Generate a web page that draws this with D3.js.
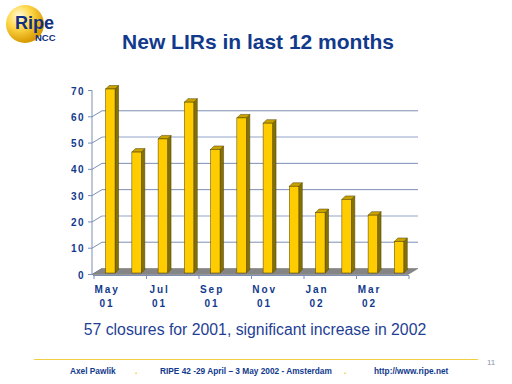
<!DOCTYPE html>
<html><head><meta charset="utf-8">
<script src="https://cdn.jsdelivr.net/npm/d3@7/dist/d3.min.js"></script>
<style>html,body{margin:0;padding:0;background:#fff;}svg{display:block;}</style>
</head><body>
<svg id="c" width="512" height="384"></svg>
<script>
const months = ["May 01","Jun 01","Jul 01","Aug 01","Sep 01","Oct 01","Nov 01","Dec 01","Jan 02","Feb 02","Mar 02","Apr 02"];
const newLIRs = [70,46,51,65,47,59,57,33,23,28,22,12];
const xTickLabels = [["May","01"],["Jul","01"],["Sep","01"],["Nov","01"],["Jan","02"],["Mar","02"]];
const yTicks = [0,10,20,30,40,50,60,70];
const gridValues = [10,20,30,40,50,60];

const svg = d3.select("#c");
const navy = "#123a8c";

// logo
const defs = svg.append("defs");
const rg = defs.append("radialGradient").attr("id","ball").attr("cx","35%").attr("cy","30%").attr("r","70%");
rg.append("stop").attr("offset","0%").attr("stop-color","#fffbe0");
rg.append("stop").attr("offset","45%").attr("stop-color","#ffd84a");
rg.append("stop").attr("offset","100%").attr("stop-color","#d89a00");
svg.append("circle").attr("cx",25).attr("cy",24).attr("r",19).attr("fill","url(#ball)");
svg.append("text").attr("x",15).attr("y",29).attr("font-family","Liberation Sans, Arial, sans-serif")
  .attr("font-size",18).attr("font-weight","bold").style("fill","#102f80").text("Ripe");
svg.append("text").attr("x",35).attr("y",41).attr("font-family","Liberation Sans, Arial, sans-serif")
  .attr("font-size",9.5).attr("font-weight","bold").style("fill","#102f80").text("NCC");

// title
svg.append("text").attr("x",258).attr("y",49).attr("text-anchor","middle")
  .attr("font-family","Liberation Sans, Arial, sans-serif").attr("font-size",21).attr("font-weight","bold")
  .attr("fill",navy).text("New LIRs in last 12 months");

// scales
const x = d3.scaleBand().domain(months).range([93,408]);
const y = d3.scaleLinear().domain([0,70]).range([274.5,90.5]);
const dx = 10, dy = -6;   // wall depth
const bw = x.bandwidth();

// back wall gridlines
const g = svg.append("g");
gridValues.forEach((v,i)=>{
  const light = (v===50||v===20);
  g.append("line").attr("x1",92+dx).attr("x2",408+dx).attr("y1",y(v)+dy).attr("y2",y(v)+dy)
    .attr("stroke", light ? "#b7c2dc" : "#7d8fb5").attr("stroke-width", light?1.6:1);
});
// left diagonals
yTicks.filter(v=>v<70).forEach(v=>{
  g.append("line").attr("x1",92).attr("x2",92+dx).attr("y1",y(v)).attr("y2",y(v)+dy)
    .attr("stroke","#7d8fb5").attr("stroke-width",1);
});
// floor
g.append("path").attr("d",`M92,${y(0)} L408,${y(0)} L${408+dx},${y(0)+dy} L${92+dx},${y(0)+dy} Z`)
  .attr("fill","#858585").attr("stroke","#6a6a6a").attr("stroke-width",0.5);

// bars
const bx = 3.5, by = -3.5, bdy = -1.5;
const bars = svg.append("g").selectAll("g").data(months).join("g");
bars.each(function(m,i){
  const v = newLIRs[i];
  const x0 = x(m) + bw*0.48, w = bw*0.36;
  const yb = y(0)+bdy, yt = y(v)+bdy;
  const s = d3.select(this);
  s.append("path").attr("d",`M${x0+w},${yt} L${x0+w+bx},${yt+by} L${x0+w+bx},${yb+by} L${x0+w},${yb} Z`)
    .attr("fill","#857000").attr("stroke","#4a3e00").attr("stroke-width",0.5);
  s.append("path").attr("d",`M${x0},${yt} L${x0+bx},${yt+by} L${x0+w+bx},${yt+by} L${x0+w},${yt} Z`)
    .attr("fill","#c9a200").attr("stroke","#4a3e00").attr("stroke-width",0.5);
  s.append("rect").attr("x",x0).attr("y",yt).attr("width",w).attr("height",yb-yt)
    .attr("fill","#ffcc00").attr("stroke","#4a3e00").attr("stroke-width",0.5);
});

// y axis
const ya = svg.append("g");
ya.append("line").attr("x1",92).attr("x2",92).attr("y1",y(70)).attr("y2",y(0)).attr("stroke","#7d8fb5");
yTicks.forEach(v=>{
  ya.append("line").attr("x1",88).attr("x2",92).attr("y1",y(v)).attr("y2",y(v)).attr("stroke","#7d8fb5");
  ya.append("text").attr("x",85).attr("y",y(v)+4).attr("text-anchor","end")
    .attr("font-family","Liberation Sans, Arial, sans-serif").attr("font-size",10).attr("font-weight","bold")
    .attr("letter-spacing",1.5).attr("fill",navy).text(v);
});

// x axis
const xa = svg.append("g");
xa.append("line").attr("x1",93).attr("x2",409).attr("y1",275.5).attr("y2",275.5).attr("stroke","#7d8fb5");
months.forEach((m,i)=>{
  if(i%2===0) xa.append("line").attr("x1",x(m)+1).attr("x2",x(m)+1).attr("y1",275.5).attr("y2",279).attr("stroke","#7d8fb5");
});
xa.append("line").attr("x1",409).attr("x2",409).attr("y1",275.5).attr("y2",279).attr("stroke","#7d8fb5");
xTickLabels.forEach((lab,k)=>{
  const m = months[k*2];
  const cx = x(m)+bw/2+1;
  lab.forEach((t,j)=>{
    xa.append("text").attr("x",cx).attr("y",293+j*14).attr("text-anchor","middle")
      .attr("font-family","Liberation Sans, Arial, sans-serif").attr("font-size",10).attr("font-weight","bold")
      .attr("letter-spacing",2).attr("fill",navy).text(t);
  });
});

// subtitle
svg.append("text").attr("x",255).attr("y",335).attr("text-anchor","middle")
  .attr("font-family","Liberation Sans, Arial, sans-serif").attr("font-size",15.8)
  .attr("fill","#1f3f94").text("57 closures for 2001, significant increase in 2002");

// footer
svg.append("line").attr("x1",34).attr("x2",478).attr("y1",359.5).attr("y2",359.5).attr("stroke","#f0d040").attr("stroke-width",1);
svg.append("text").attr("x",487).attr("y",365).attr("font-family","Liberation Sans, Arial, sans-serif")
  .attr("font-size",8).attr("fill","#8a94a8").text("11");
const foot = [["Axel Pawlik",70,"start",navy],[".",135,"start","#f0c020"],["RIPE 42 -29 April – 3 May 2002 - Amsterdam",160,"start",navy],[".",344,"start","#f0c020"],["http://www.ripe.net",374,"start",navy]];
foot.forEach(f=>{
  svg.append("text").attr("x",f[1]).attr("y",374).attr("text-anchor",f[2])
    .attr("font-family","Liberation Sans, Arial, sans-serif").attr("font-size",8.3).attr("font-weight","bold")
    .attr("fill",f[3]).text(f[0]);
});
</script>
</body></html>
